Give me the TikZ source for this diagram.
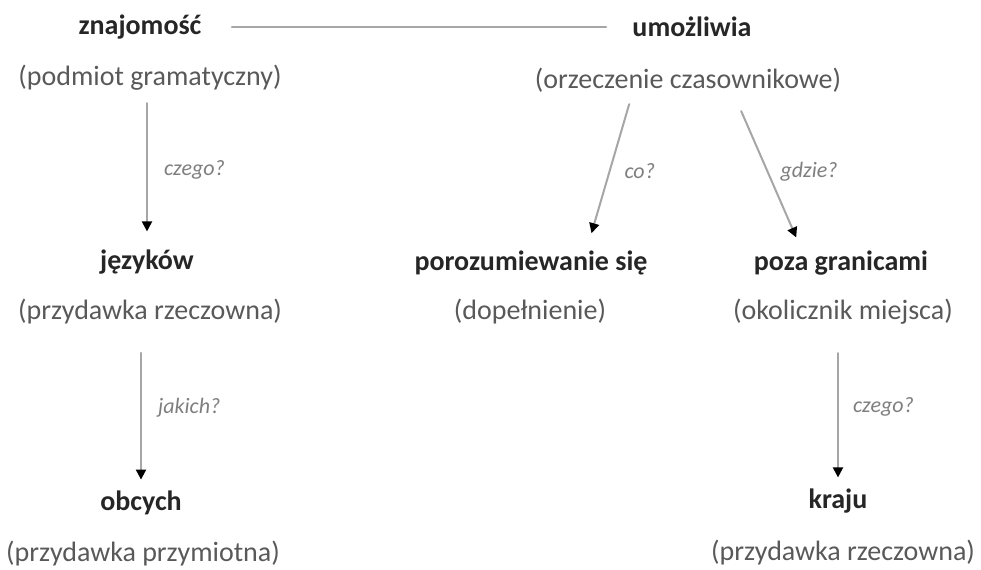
\documentclass[tikz,border=0pt]{standalone}
\usepackage{fontspec}
\setmainfont{Carlito}
\usetikzlibrary{arrows.meta}
\definecolor{linegray}{HTML}{A6A6A6}
\definecolor{rolegray}{HTML}{595959}
\definecolor{askgray}{HTML}{7F7F7F}
\begin{document}
\begin{tikzpicture}[x=0.5pt,y=-0.5pt, line cap=round,
    word/.style={font=\fontsize{14}{16}\selectfont\bfseries,text=black!85,inner sep=1pt},
    role/.style={font=\fontsize{14}{16}\selectfont,text=rolegray,inner sep=1pt},
    ask/.style={font=\fontsize{11}{13}\selectfont\itshape,text=askgray,anchor=west,inner sep=0pt},
    conn/.style={draw=linegray,line width=1pt,shorten <=5pt,shorten >=8pt,
        -{Triangle[length=5pt,width=5pt,color=black]}}]
    \useasboundingbox (0,0) rectangle (981,569);
    % level 1
    \node[word] (zn) at (140,27) {znajomość};
    \node[role] (pg) at (150,78) {(podmiot gramatyczny)};
    \node[word] (um) at (692,27) {umożliwia};
    \node[role] (oc) at (688,80) {(orzeczenie czasownikowe)};
    % level 2
    \node[word] (jz) at (147,262) {języków};
    \node[role] (rz1) at (150,312) {(przydawka rzeczowna)};
    \node[word] (pr) at (531,263) {porozumiewanie się};
    \node[role] (dp) at (530,312) {(dopełnienie)};
    \node[word] (gr) at (841,263) {poza granicami};
    \node[role] (om) at (843,312) {(okolicznik miejsca)};
    % level 3
    \node[word] (ob) at (141,503) {obcych};
    \node[role] (pm) at (143,554) {(przydawka przymiotna)};
    \node[word] (kr) at (838,501) {kraju};
    \node[role] (rz2) at (843,553) {(przydawka rzeczowna)};
    % connectors
    \draw[linegray,line width=1pt,shorten <=14pt,shorten >=12pt] (zn) -- (um);
    \draw[conn] (jz.north |- pg.south) -- (jz.north)
        node[ask,midway,xshift=8pt] {czego?};
    \draw[conn,shorten <=13pt,shorten >=4.5pt] (ob.north |- rz1.south) -- (ob.north)
        node[ask,midway,xshift=8pt] {jakich?};
    \draw[conn,shorten <=13pt,shorten >=4.5pt] (kr.north |- om.south) -- (kr.north)
        node[ask,midway,xshift=7pt] {czego?};
    \draw[conn] ([xshift=-28pt]oc.south) -- ([xshift=28pt]pr.north)
        node[ask,midway,xshift=7pt] {co?};
    \draw[conn,shorten <=9pt,shorten >=6pt] ([xshift=23pt]oc.south) -- ([xshift=-20pt]gr.north)
        node[ask,midway,xshift=6pt] {gdzie?};
\end{tikzpicture}
\end{document}
